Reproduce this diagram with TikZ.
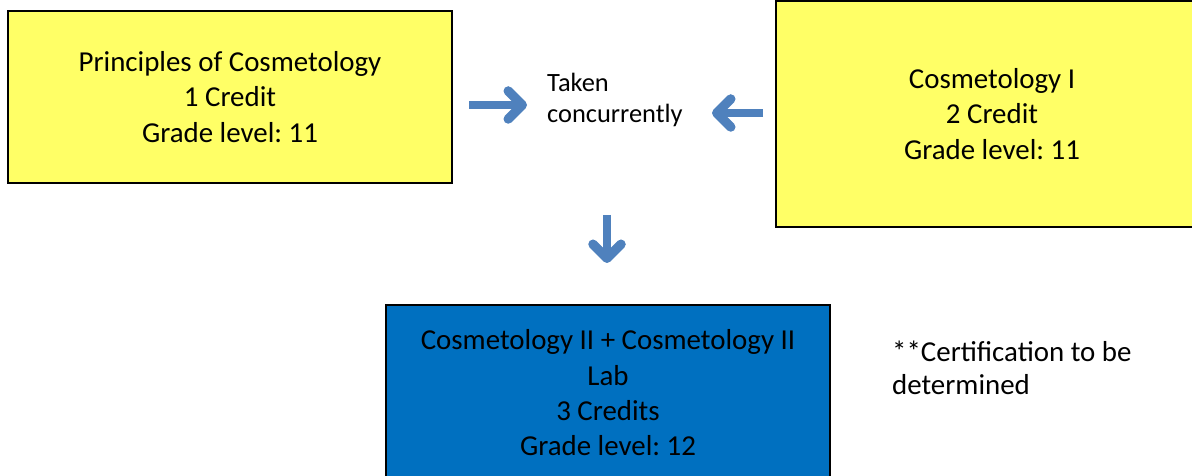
\documentclass[tikz,border=0pt]{standalone}
\usepackage{fontspec}
\setmainfont{Carlito}
\usepackage{xcolor}
\usetikzlibrary{arrows.meta,positioning}
\definecolor{crsyellow}{HTML}{FFFF66}
\definecolor{crsblue}{HTML}{0070C0}
\definecolor{arrblue}{HTML}{4F81BD}
\frenchspacing
\tikzset{
  course/.style={draw=black,line width=2.2bp,align=center,inner sep=0pt,
                 font=\fontsize{29}{35.5}\selectfont},    % course box
  yel/.style={course,fill=crsyellow},                     % grade 11
  blu/.style={course,fill=crsblue},                       % grade 12
  note/.style={align=left,anchor=west,inner sep=0pt},
  bar/.style={draw=arrblue,line width=8bp,
              -{Straight Barb[round,length=14bp,width=28bp,line width=9.5bp]}}
}

\begin{document}
\begin{tikzpicture}[x=1bp,y=-1bp]
  \useasboundingbox (0,0) rectangle (1192,476);

  \node[yel,minimum width=444bp,minimum height=172bp] (princ) at (230,97)
    {Principles of Cosmetology\\1 Credit\\Grade level: 11};
  \node[yel,minimum width=432bp,minimum height=226bp] (cosmoI) at (992,114)
    {Cosmetology I\\2 Credit\\Grade level: 11};
  \node[blu,minimum width=444bp,minimum height=176bp] (cosmoII) at (608,393)
    {Cosmetology II + Cosmetology II\\Lab\\3 Credits\\Grade level: 12};

  \node[note,font=\fontsize{26.5}{32}\selectfont] (conc) at (547,100)
    {Taken\\concurrently};
  \node[note,font=\fontsize{29}{33}\selectfont] (cert) at (892,368)
    {**Certification to be\\determined};

  \coordinate (rtail) at (469,105);
  \coordinate (rtip)  at (527,105);
  \coordinate (ltail) at (763,113);
  \coordinate (ltip)  at (712,113);
  \coordinate (dtail) at (607,215);
  \coordinate (dtip)  at (607,263);
  \draw[bar] (rtail) -- (rtip);
  \draw[bar] (ltail) -- (ltip);
  \draw[bar] (dtail) -- (dtip);
\end{tikzpicture}
\end{document}
